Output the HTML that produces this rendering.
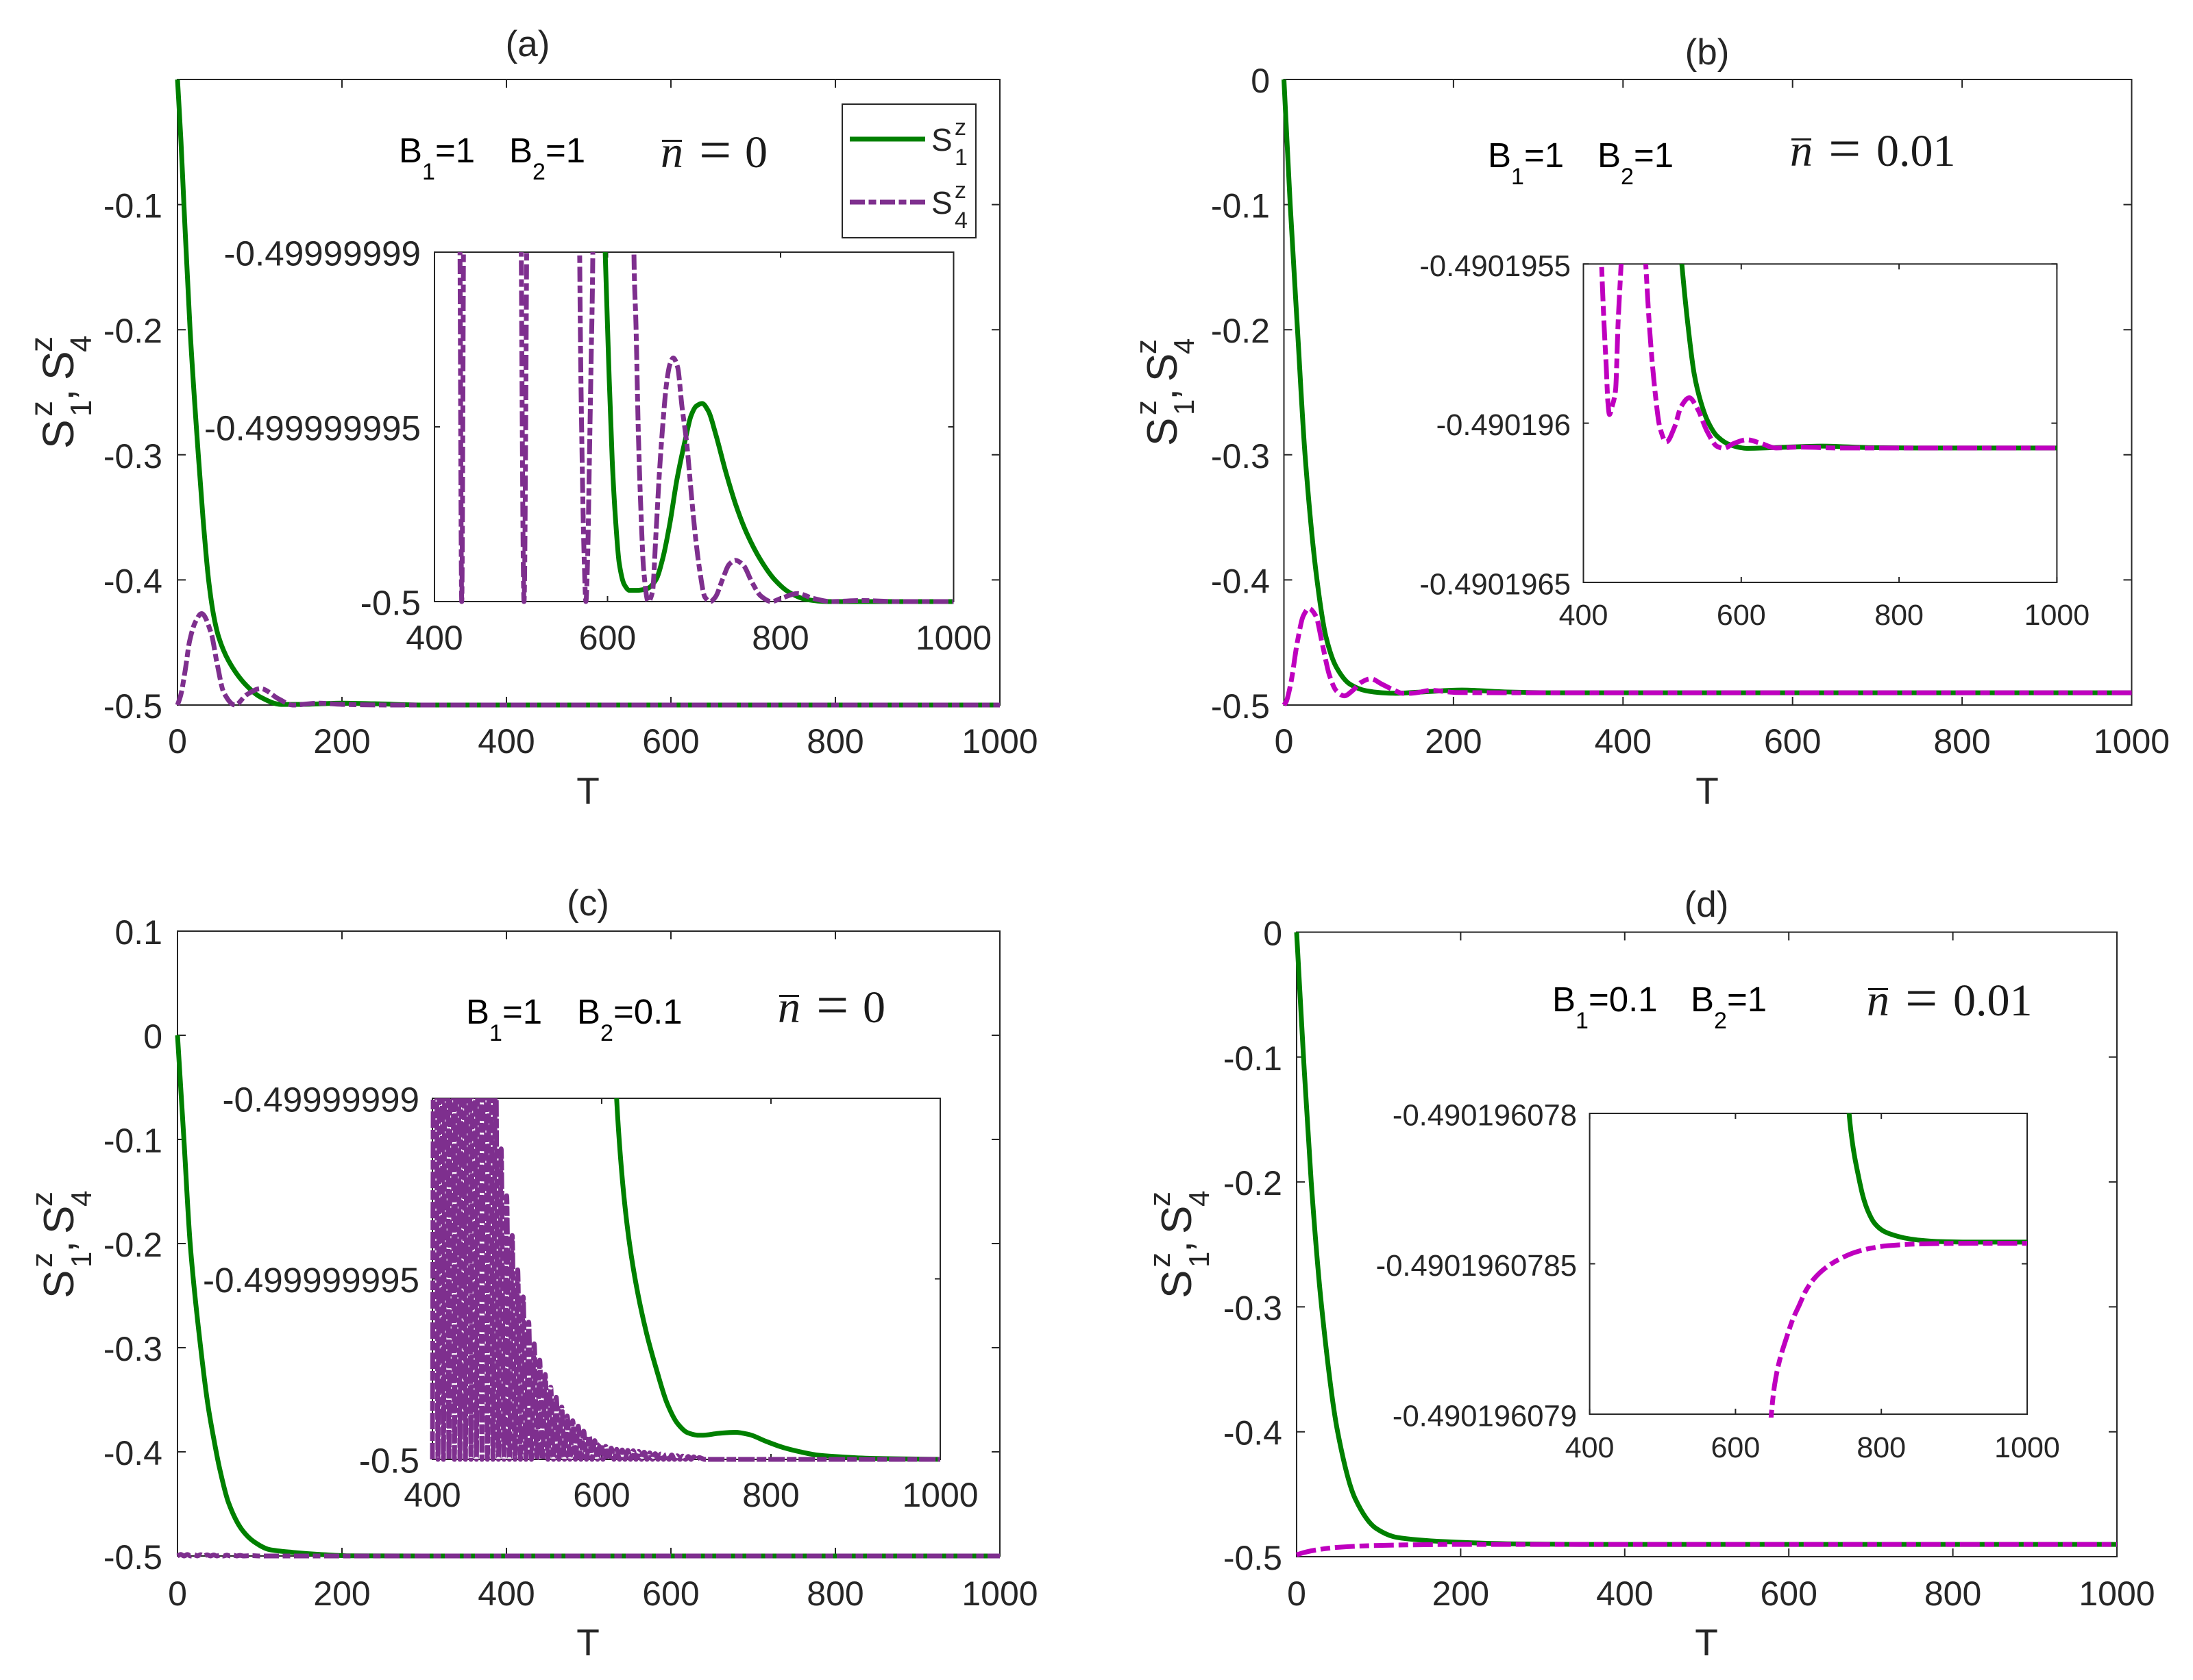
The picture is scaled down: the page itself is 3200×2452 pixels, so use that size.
<!DOCTYPE html>
<html lang="en">
<head>
<meta charset="utf-8">
<title>Spin relaxation panels</title>
<style>
html,body{margin:0;padding:0;background:#fff;overflow:hidden;}
svg{display:block;}
text{font-family:"Liberation Sans",sans-serif;fill:#262626;}
.math{font-family:"Liberation Serif",serif;fill:#1a1a1a;}
.ann{fill:#000;}
</style>
</head>
<body>
<svg id="figure" xmlns="http://www.w3.org/2000/svg" width="3200" height="2452" viewBox="0 0 3200 2452">
  <rect x="0" y="0" width="3200" height="2452" fill="#ffffff"/>
  <g id="charts"></g>

  <text x="770" y="82" font-size="53" text-anchor="middle">(a)</text>
  <text x="2491" y="94" font-size="53" text-anchor="middle">(b)</text>
  <text x="858" y="1336" font-size="53" text-anchor="middle">(c)</text>
  <text x="2490" y="1338" font-size="53" text-anchor="middle">(d)</text>

  <text x="858" y="1173" font-size="55" text-anchor="middle">T</text>
  <text x="2491" y="1173" font-size="55" text-anchor="middle">T</text>
  <text x="858" y="2416" font-size="55" text-anchor="middle">T</text>
  <text x="2490" y="2416" font-size="55" text-anchor="middle">T</text>

  <g transform="translate(107,655) rotate(-90)">
    <text x="0" y="0" font-size="64">S</text><text x="47" y="26" font-size="44">1</text><text x="47" y="-31" font-size="46">z</text><text x="70" y="0" font-size="64">,</text><text x="100" y="0" font-size="64">S</text><text x="141" y="26" font-size="44">4</text><text x="141" y="-31" font-size="46">z</text>
  </g>
  <g transform="translate(1717,651) rotate(-90)">
    <text x="0" y="0" font-size="62">S</text><text x="45" y="25" font-size="42">1</text><text x="45" y="-30" font-size="44">z</text><text x="67" y="0" font-size="62">,</text><text x="94" y="0" font-size="62">S</text><text x="134" y="25" font-size="42">4</text><text x="134" y="-30" font-size="44">z</text>
  </g>
  <g transform="translate(107,1895) rotate(-90)">
    <text x="0" y="0" font-size="62">S</text><text x="45" y="26" font-size="42">1</text><text x="45" y="-31" font-size="44">z</text><text x="67" y="0" font-size="62">,</text><text x="94" y="0" font-size="62">S</text><text x="134" y="26" font-size="42">4</text><text x="134" y="-31" font-size="44">z</text>
  </g>
  <g transform="translate(1738,1895) rotate(-90)">
    <text x="0" y="0" font-size="62">S</text><text x="45" y="26" font-size="42">1</text><text x="45" y="-31" font-size="44">z</text><text x="67" y="0" font-size="62">,</text><text x="94" y="0" font-size="62">S</text><text x="134" y="26" font-size="42">4</text><text x="134" y="-31" font-size="44">z</text>
  </g>

  <g>
    <text class="ann" x="582" y="237" font-size="51">B<tspan font-size="34" dy="25">1</tspan><tspan dy="-25">=1</tspan></text>
    <text class="ann" x="743" y="237" font-size="51">B<tspan font-size="34" dy="25">2</tspan><tspan dy="-25">=1</tspan></text>
    <rect x="966" y="204" width="29" height="3" fill="#1a1a1a"/>
    <text class="math" x="964" y="244" font-size="66" font-style="italic">n</text>
    <text class="math" x="1020" y="247" font-size="84">=</text>
    <text class="math" x="1087" y="244" font-size="66">0</text>
  </g>
  <g>
    <text class="ann" x="2171" y="244" font-size="51">B<tspan font-size="34" dy="25">1</tspan><tspan dy="-25">=1</tspan></text>
    <text class="ann" x="2331" y="244" font-size="51">B<tspan font-size="34" dy="25">2</tspan><tspan dy="-25">=1</tspan></text>
    <rect x="2614" y="202" width="29" height="3" fill="#1a1a1a"/>
    <text class="math" x="2612" y="242" font-size="66" font-style="italic">n</text>
    <text class="math" x="2668" y="245" font-size="84">=</text>
    <text class="math" x="2738" y="242" font-size="66">0.01</text>
  </g>
  <g>
    <text class="ann" x="680" y="1494" font-size="51">B<tspan font-size="34" dy="25">1</tspan><tspan dy="-25">=1</tspan></text>
    <text class="ann" x="842" y="1494" font-size="51">B<tspan font-size="34" dy="25">2</tspan><tspan dy="-25">=0.1</tspan></text>
    <rect x="1137" y="1452" width="29" height="3" fill="#1a1a1a"/>
    <text class="math" x="1135" y="1492" font-size="66" font-style="italic">n</text>
    <text class="math" x="1191" y="1495" font-size="84">=</text>
    <text class="math" x="1259" y="1492" font-size="66">0</text>
  </g>
  <g>
    <text class="ann" x="2265" y="1476" font-size="51">B<tspan font-size="34" dy="25">1</tspan><tspan dy="-25">=0.1</tspan></text>
    <text class="ann" x="2467" y="1476" font-size="51">B<tspan font-size="34" dy="25">2</tspan><tspan dy="-25">=1</tspan></text>
    <rect x="2726" y="1442" width="29" height="3" fill="#1a1a1a"/>
    <text class="math" x="2724" y="1482" font-size="66" font-style="italic">n</text>
    <text class="math" x="2780" y="1485" font-size="84">=</text>
    <text class="math" x="2850" y="1482" font-size="66">0.01</text>
  </g>
  <g id="legend"></g>
</svg>

<script>
// ---------- shared axis ticks ----------
const mainXTicks = [0, 200, 400, 600, 800, 1000];
const mainXLabels = ['0', '200', '400', '600', '800', '1000'];
const mainYTicks = [-0.5, -0.4, -0.3, -0.2, -0.1, 0];
const mainYLabelsNoZero = ['-0.5', '-0.4', '-0.3', '-0.2', '-0.1', ''];
const mainYLabels = ['-0.5', '-0.4', '-0.3', '-0.2', '-0.1', '0'];
const panelCYTicks = [-0.5, -0.4, -0.3, -0.2, -0.1, 0, 0.1];
const panelCYLabels = ['-0.5', '-0.4', '-0.3', '-0.2', '-0.1', '0', '0.1'];
const insetXTicks = [400, 600, 800, 1000];
const insetXLabels = ['400', '600', '800', '1000'];
// inset values are stored in tenths of the inset's y range (0 = bottom label, 10 = top label)
const insetYTicks = [0, 5, 10];
const insetALabels = ['-0.5', '-0.499999995', '-0.49999999'];
const insetBLabels = ['-0.4901965', '-0.490196', '-0.4901955'];
const insetCLabels = ['-0.5', '-0.499999995', '-0.49999999'];
const insetDLabels = ['-0.490196079', '-0.4901960785', '-0.490196078'];

// ---------- panel (a) ----------
const panelATimeS1 = [0, 4.2, 7.8, 15.3, 25.3, 31, 37.8, 44, 50, 62, 84, 101, 126, 150, 200, 240, 300, 1000];
const panelAS1 = [0, -0.049, -0.1, -0.2, -0.3, -0.3505, -0.4, -0.4285, -0.4455, -0.4645, -0.4845, -0.4937, -0.4995, -0.4995, -0.4985, -0.499, -0.5, -0.5];
const panelATimeS4 = [0, 4, 9.2, 14.7, 21.7, 29.2, 41, 48, 56.4, 70, 84, 101, 123, 140, 172, 200, 260, 1000];
const panelAS4 = [-0.5, -0.492, -0.473, -0.449, -0.4337, -0.4269, -0.4427, -0.4663, -0.4902, -0.5, -0.4918, -0.4869, -0.4951, -0.5, -0.4985, -0.4995, -0.5, -0.5];
const insetATimeS1 = [589.7, 597.3, 601.3, 605.4, 609.4, 613.5, 619.5, 625.6, 633.7, 645.8, 655.9, 664, 672, 680.2, 690.3, 696.4, 702.4, 709.3, 716.6, 724.7, 736.8, 748.9, 761, 777.2, 793.4, 809.6, 829.8, 854, 1000];
const insetAS1 = [16, 10, 6.85, 4.05, 2.3, 1.1, 0.48, 0.32, 0.32, 0.37, 0.62, 1.25, 2.23, 3.49, 4.68, 5.31, 5.59, 5.67, 5.45, 4.82, 3.7, 2.72, 1.95, 1.18, 0.62, 0.27, 0.06, 0, 0];
const insetATimeS4 = [400, 428.5, 429.5, 431.5, 433.5, 434.5, 499.3, 500.3, 503.5, 506.5, 507.5, 566.8, 567.8, 570.2, 573, 575, 577, 579, 581, 583, 584, 629.5, 630.5, 632.9, 635.7, 638.5, 641.8, 647, 651.9, 656, 660, 664, 668, 672, 676, 681, 686, 691.5, 696.4, 701.2, 706.5, 712.5, 718.6, 724.7, 732.7, 740.8, 748, 757, 767, 777.2, 789.3, 801.5, 819.7, 837.9, 858, 894.5, 935, 1000];
const insetAS4 = [16, 16, 10, 0, 10, 16, 16, 10, 0, 10, 16, 16, 10, 4.75, 1.25, 0, 1.25, 4, 6.85, 10, 16, 16, 10, 7.9, 4.75, 2.65, 0.9, 0, 0.27, 1.95, 3.7, 5.1, 6.2, 6.78, 6.97, 6.71, 5.59, 4.54, 3.2, 1.95, 0.9, 0.13, 0, 0.13, 0.62, 1.07, 1.18, 1.04, 0.55, 0.16, 0, 0.1, 0.23, 0.09, 0, 0.03, 0, 0];

// ---------- panel (b) ----------
const panelBTimeS1 = [0, 7.4, 16, 24.9, 39, 49.7, 61.8, 78, 96.9, 115.7, 131.9, 164, 210, 260, 320, 1000];
const panelBS1 = [0, -0.1, -0.2, -0.3, -0.4, -0.4458, -0.4697, -0.4834, -0.4886, -0.4902, -0.4906, -0.4895, -0.488, -0.4895, -0.4902, -0.4902];
const panelBTimeS4 = [0, 2.6, 7.9, 16, 22.8, 29.5, 37.6, 45.7, 53.8, 61.8, 71.3, 80.7, 91.5, 102.3, 115.7, 129.2, 140, 150, 174, 203.6, 260, 1000];
const panelBS4 = [-0.5, -0.4975, -0.4834, -0.449, -0.4288, -0.4228, -0.4288, -0.4526, -0.4765, -0.4886, -0.4927, -0.4886, -0.4817, -0.479, -0.4834, -0.4879, -0.4906, -0.4906, -0.4883, -0.49, -0.4902, -0.4902];
const insetBTimeS1 = [505, 515, 524.7, 532, 540.5, 548.7, 557, 569.5, 586, 607, 640, 702.5, 765, 830, 1000];
const insetBS1 = [18, 13, 10, 8.18, 6.53, 5.67, 5.09, 4.59, 4.32, 4.21, 4.23, 4.28, 4.23, 4.22, 4.22];
const insetBTimeS4 = [400, 415, 423, 426, 429, 431, 433, 436, 440.7, 444, 447.8, 463, 479, 484.3, 490.6, 496.8, 505, 515.5, 523.8, 534.2, 544.6, 557, 569.5, 577.8, 590.3, 607, 623.5, 644, 673.4, 723, 1000];
const insetBS4 = [18, 16, 10, 8.18, 6.74, 5.67, 5.27, 5.5, 6.03, 8.18, 10, 18, 10, 7.82, 6.03, 4.88, 4.41, 4.88, 5.52, 5.8, 5.45, 4.73, 4.27, 4.21, 4.36, 4.48, 4.38, 4.22, 4.25, 4.22, 4.22];

// ---------- panel (c) ----------
const panelCTimeS1 = [0, 3.9, 7.8, 15.4, 28.2, 37, 45.3, 50.8, 62, 78.6, 92.5, 112, 139.7, 173, 206, 300, 1000];
const panelCS1 = [0, -0.05, -0.1, -0.2, -0.3, -0.355, -0.3925, -0.4145, -0.4487, -0.475, -0.486, -0.4939, -0.4965, -0.4985, -0.4998, -0.5, -0.5];
const panelCTimeS4 = [0, 4, 8, 12, 16, 20, 24, 28, 32, 36, 40, 44, 48, 52, 56, 60, 64, 68, 72, 76, 80, 90, 100, 1000];
const panelCS4 = [-0.5, -0.4985, -0.5, -0.4986, -0.5, -0.4987, -0.5, -0.4988, -0.5, -0.4989, -0.5, -0.499, -0.5, -0.4991, -0.5, -0.4992, -0.5, -0.4993, -0.5, -0.4994, -0.5, -0.4997, -0.5, -0.5];
const insetCTimeS1 = [600, 617.6, 621.7, 626.9, 632.9, 641, 653, 665.2, 677.3, 689.4, 701.4, 713.5, 719.6, 737.7, 757.9, 774, 794.1, 814.3, 834.4, 854.6, 874.7, 915, 1000];
const insetCS1 = [22, 10, 8.52, 7.14, 5.97, 4.8, 3.49, 2.45, 1.55, 1, 0.74, 0.67, 0.67, 0.72, 0.75, 0.69, 0.5, 0.33, 0.21, 0.12, 0.08, 0.03, 0];
const insetCTimeS4 = [400, 403.25, 406.5, 409.75, 413, 416.25, 419.5, 422.75, 426, 429.25, 432.5, 435.75, 439, 442.25, 445.5, 448.75, 452, 455.25, 458.5, 461.75, 465, 468.25, 471.5, 474.75, 478, 481.25, 484.5, 487.75, 491, 494.25, 497.5, 500.75, 504, 507.25, 510.5, 513.75, 517, 520.25, 523.5, 526.75, 530, 533.25, 536.5, 539.75, 543, 546.25, 549.5, 552.75, 556, 559.25, 562.5, 565.75, 569, 572.25, 575.5, 578.75, 582, 585.25, 588.5, 591.75, 595, 598.25, 601.5, 604.75, 608, 611.25, 614.5, 617.75, 621, 624.25, 627.5, 630.75, 634, 637.25, 640.5, 643.75, 647, 650.25, 653.5, 656.75, 660, 663.25, 666.5, 669.75, 673, 676.25, 679.5, 682.75, 686, 689.25, 692.5, 695.75, 699, 702.25, 705.5, 708.75, 712, 715.25, 721.75, 1000];
const insetCS4 = [0, 30, 0, 30, 0, 30, 0, 30, 0, 30, 0, 30, 0, 30, 0, 30, 0, 30, 0, 27, 0, 20, 0, 11.5, 0, 8.6, 0, 7.3, 0, 6.2, 0, 5.25, 0, 4.5, 0, 3.8, 0, 3.2, 0, 2.75, 0, 2.35, 0, 2, 0, 1.72, 0, 1.45, 0, 1.2, 0, 1.07, 0, 0.92, 0, 0.78, 0, 0.65, 0, 0.52, 0, 0.43, 0, 0.36, 0, 0.31, 0, 0.28, 0, 0.26, 0, 0.25, 0, 0.24, 0, 0.22, 0, 0.2, 0, 0.18, 0, 0.16, 0, 0.15, 0, 0.13, 0, 0.12, 0, 0.1, 0, 0.09, 0, 0.08, 0, 0.07, 0, 0.05, 0, 0];

// ---------- panel (d) ----------
const panelDTimeS1 = [0, 8.4, 17.8, 30.5, 50, 71.5, 97, 122.6, 182, 267.6, 350, 1000];
const panelDS1 = [0, -0.1, -0.2, -0.3, -0.4, -0.4537, -0.4774, -0.4846, -0.488, -0.4898, -0.4902, -0.4902];
const panelDTimeS4 = [0, 10, 25, 50, 100, 200, 1000];
const panelDS4 = [-0.4985, -0.4965, -0.4945, -0.4925, -0.491, -0.4902, -0.4902];
const insetDTimeS1 = [730, 755.8, 761.6, 768.4, 775.1, 781.9, 790.9, 802.1, 813.4, 831.4, 853.9, 876.3, 921.3, 1000];
const insetDS1 = [30, 10, 8.82, 7.94, 7.22, 6.74, 6.34, 6.1, 5.98, 5.86, 5.78, 5.74, 5.72, 5.72];
const insetDTimeS4 = [635, 649.2, 653.7, 660.4, 669.4, 678.4, 687.4, 696.4, 707.7, 723.4, 741.4, 763.9, 786.4, 808.9, 853.9, 921.3, 1000];
const insetDS4 = [-7, 0, 0.98, 1.78, 2.5, 3.14, 3.62, 4.1, 4.5, 4.86, 5.14, 5.38, 5.52, 5.6, 5.66, 5.68, 5.68];

// ---------- legend sample ----------
const legendLabels = ['1', '4'];

// ---------- drawing helpers ----------
const SVGNS = 'http://www.w3.org/2000/svg';
const GREEN = '#008000', PURPLE = '#7e2f8e', MAGENTA = '#bf00bf';
const STROKE_W = 7;
const DASH_SHORT = '22 5.5 11 5.5';
const DASH_DENSE = '24 3 14 3';
const DASH_LONG = '29 7 14 7';
const chartsRoot = document.getElementById('charts');
let clipCount = 0;

function make(tag, attrs, parent) {
  const el = document.createElementNS(SVGNS, tag);
  for (const k in attrs) el.setAttribute(k, attrs[k]);
  if (parent) parent.appendChild(el);
  return el;
}

function scale(d0, d1, r0, r1) {
  return function (v) { return r0 + (v - d0) * (r1 - r0) / (d1 - d0); };
}

// monotone cubic through the data points, in pixel space
function curvePath(ts, vs, fx, fy) {
  const xs = ts.map(fx), ys = vs.map(fy), n = xs.length;
  const d = [], m = [];
  for (let i = 0; i < n - 1; i++) d.push((ys[i + 1] - ys[i]) / (xs[i + 1] - xs[i]));
  m.push(d[0]);
  for (let i = 1; i < n - 1; i++) {
    if (d[i - 1] * d[i] <= 0) m.push(0);
    else {
      const h0 = xs[i] - xs[i - 1], h1 = xs[i + 1] - xs[i];
      m.push((h0 + h1) * 3 / ((2 * h1 + h0) / d[i - 1] + (h1 + 2 * h0) / d[i]));
    }
  }
  m.push(d[n - 2]);
  let p = 'M' + xs[0].toFixed(2) + ' ' + ys[0].toFixed(2);
  for (let i = 0; i < n - 1; i++) {
    const h = (xs[i + 1] - xs[i]) / 3;
    p += 'C' + (xs[i] + h).toFixed(2) + ' ' + (ys[i] + m[i] * h).toFixed(2) + ' ' +
      (xs[i + 1] - h).toFixed(2) + ' ' + (ys[i + 1] - m[i + 1] * h).toFixed(2) + ' ' +
      xs[i + 1].toFixed(2) + ' ' + ys[i + 1].toFixed(2);
  }
  return p;
}

function drawAxes(name, cfg) {
  const g = make('g', {}, chartsRoot);
  
  
  const fx = scale(cfg.xDomain[0], cfg.xDomain[1], cfg.left, cfg.right);
  const fy = scale(cfg.yDomain[0], cfg.yDomain[1], cfg.bottom, cfg.top);

  const frame = make('rect', { x: cfg.left, y: cfg.top, width: cfg.right - cfg.left, height: cfg.bottom - cfg.top, fill: '#fff', stroke: '#262626', 'stroke-width': 2 }, g);
  
  

  cfg.xTicks.forEach(function (t, i) {
    const x = fx(t);
    const tick = make('path', { d: 'M' + x + ' ' + cfg.bottom + 'v' + (-cfg.tickLen) + 'M' + x + ' ' + cfg.top + 'v' + cfg.tickLen, stroke: '#262626', 'stroke-width': 2, fill: 'none' }, g);
    
    
    const label = make('text', { x: x, y: cfg.xLabelY, 'font-size': cfg.fontSize, 'text-anchor': 'middle' }, g);
    label.textContent = cfg.xLabels[i];
    
    
  });
  cfg.yTicks.forEach(function (t, i) {
    const y = fy(t);
    const tick = make('path', { d: 'M' + cfg.left + ' ' + y + 'h' + cfg.tickLen + 'M' + cfg.right + ' ' + y + 'h' + (-cfg.tickLen), stroke: '#262626', 'stroke-width': 2, fill: 'none' }, g);
    
    
    if (cfg.yLabels[i]) {
      const label = make('text', { x: cfg.yLabelX, y: y + cfg.yLabelDy, 'font-size': cfg.yFontSize || cfg.fontSize, 'text-anchor': 'end' }, g);
      label.textContent = cfg.yLabels[i];
      
      
    }
  });

  const clipId = 'clip' + (++clipCount);
  const clip = make('clipPath', { id: clipId }, g);
  make('rect', { x: cfg.left - 4, y: cfg.top, width: cfg.right - cfg.left + 8, height: cfg.bottom - cfg.top + 5 }, clip);
  const plot = make('g', { 'clip-path': 'url(#' + clipId + ')' }, g);

  const s1 = make('path', { d: curvePath(cfg.s1T, cfg.s1V, fx, fy), fill: 'none', stroke: GREEN, 'stroke-width': STROKE_W, 'stroke-linejoin': 'round' }, plot);
  
  
  const s4 = make('path', { d: curvePath(cfg.s4T, cfg.s4V, fx, fy), fill: 'none', stroke: cfg.s4Color, 'stroke-width': STROKE_W, 'stroke-linejoin': 'round', 'stroke-dasharray': cfg.dash }, plot);
  
  
}

const mainStyle = { xDomain: [0, 1000], xTicks: mainXTicks, xLabels: mainXLabels, tickLen: 12, fontSize: 50, yLabelDy: 19 };
const insetBig = { xDomain: [400, 1000], yDomain: [0, 10], xTicks: insetXTicks, xLabels: insetXLabels, yTicks: insetYTicks, tickLen: 8, fontSize: 50, yFontSize: 51.2, yLabelDy: 19.5 };
const insetSmall = { xDomain: [400, 1000], yDomain: [0, 10], xTicks: insetXTicks, xLabels: insetXLabels, yTicks: insetYTicks, tickLen: 8, fontSize: 43, yFontSize: 43.6, yLabelDy: 17.5 };

drawAxes('panel-a', Object.assign({}, mainStyle, { left: 259, right: 1459, top: 116, bottom: 1029, yDomain: [-0.5, 0], yTicks: mainYTicks, yLabels: mainYLabelsNoZero, yLabelX: 237, xLabelY: 1099, s1T: panelATimeS1, s1V: panelAS1, s4T: panelATimeS4, s4V: panelAS4, s4Color: PURPLE, dash: DASH_SHORT }));
drawAxes('panel-a-inset', Object.assign({}, insetBig, { left: 634, right: 1391.5, top: 368, bottom: 878, yLabels: insetALabels, yLabelX: 614, xLabelY: 948, s1T: insetATimeS1, s1V: insetAS1, s4T: insetATimeS4, s4V: insetAS4, s4Color: PURPLE, dash: DASH_SHORT }));

drawAxes('panel-b', Object.assign({}, mainStyle, { left: 1873.5, right: 3110.5, top: 116, bottom: 1029, yDomain: [-0.5, 0], yTicks: mainYTicks, yLabels: mainYLabels, yLabelX: 1853, xLabelY: 1099, s1T: panelBTimeS1, s1V: panelBS1, s4T: panelBTimeS4, s4V: panelBS4, s4Color: MAGENTA, dash: DASH_LONG }));
drawAxes('panel-b-inset', Object.assign({}, insetSmall, { left: 2310.5, right: 3001.4, top: 385.3, bottom: 850, yLabels: insetBLabels, yLabelX: 2292, xLabelY: 912, s1T: insetBTimeS1, s1V: insetBS1, s4T: insetBTimeS4, s4V: insetBS4, s4Color: MAGENTA, dash: DASH_LONG }));

drawAxes('panel-c', Object.assign({}, mainStyle, { left: 259, right: 1459, top: 1359, bottom: 2271, yDomain: [-0.5, 0.1], yTicks: panelCYTicks, yLabels: panelCYLabels, yLabelX: 237, xLabelY: 2343, s1T: panelCTimeS1, s1V: panelCS1, s4T: panelCTimeS4, s4V: panelCS4, s4Color: PURPLE, dash: DASH_SHORT }));
drawAxes('panel-c-inset', Object.assign({}, insetBig, { left: 631, right: 1372, top: 1603, bottom: 2130, yLabels: insetCLabels, yLabelX: 612, xLabelY: 2199, s1T: insetCTimeS1, s1V: insetCS1, s4T: insetCTimeS4, s4V: insetCS4, s4Color: PURPLE, dash: DASH_DENSE }));

drawAxes('panel-d', Object.assign({}, mainStyle, { left: 1892, right: 3089, top: 1360.5, bottom: 2272, yDomain: [-0.5, 0], yTicks: mainYTicks, yLabels: mainYLabels, yLabelX: 1871, xLabelY: 2343, s1T: panelDTimeS1, s1V: panelDS1, s4T: panelDTimeS4, s4V: panelDS4, s4Color: MAGENTA, dash: DASH_LONG }));
drawAxes('panel-d-inset', Object.assign({}, insetSmall, { left: 2319.6, right: 2958, top: 1625, bottom: 2064, yLabels: insetDLabels, yLabelX: 2301, xLabelY: 2127, s1T: insetDTimeS1, s1V: insetDS1, s4T: insetDTimeS4, s4V: insetDS4, s4Color: MAGENTA, dash: DASH_LONG }));

// ---------- legend (panel a) ----------
const legend = document.getElementById('legend');
const legendBox = make('rect', { x: 1229, y: 152, width: 195, height: 195, fill: '#fff', stroke: '#262626', 'stroke-width': 2 }, legend);


[[GREEN, null, 203, 220], [PURPLE, DASH_SHORT, 295, 312]].forEach(function (row, i) {
  const entry = make('g', {}, legend);
  
  
  const attrs = { x1: 1240, x2: 1350, y1: row[2], y2: row[2], stroke: row[0], 'stroke-width': 7 };
  if (row[1]) attrs['stroke-dasharray'] = row[1];
  make('line', attrs, entry);
  make('text', { x: 1359, y: row[3], 'font-size': 46, fill: '#000' }, entry).textContent = 'S';
  make('text', { x: 1393, y: row[3] - 23, 'font-size': 34, fill: '#000' }, entry).textContent = 'z';
  make('text', { x: 1393, y: row[3] + 21, 'font-size': 34, fill: '#000' }, entry).textContent = legendLabels[i];
});
</script>
</body>
</html>
